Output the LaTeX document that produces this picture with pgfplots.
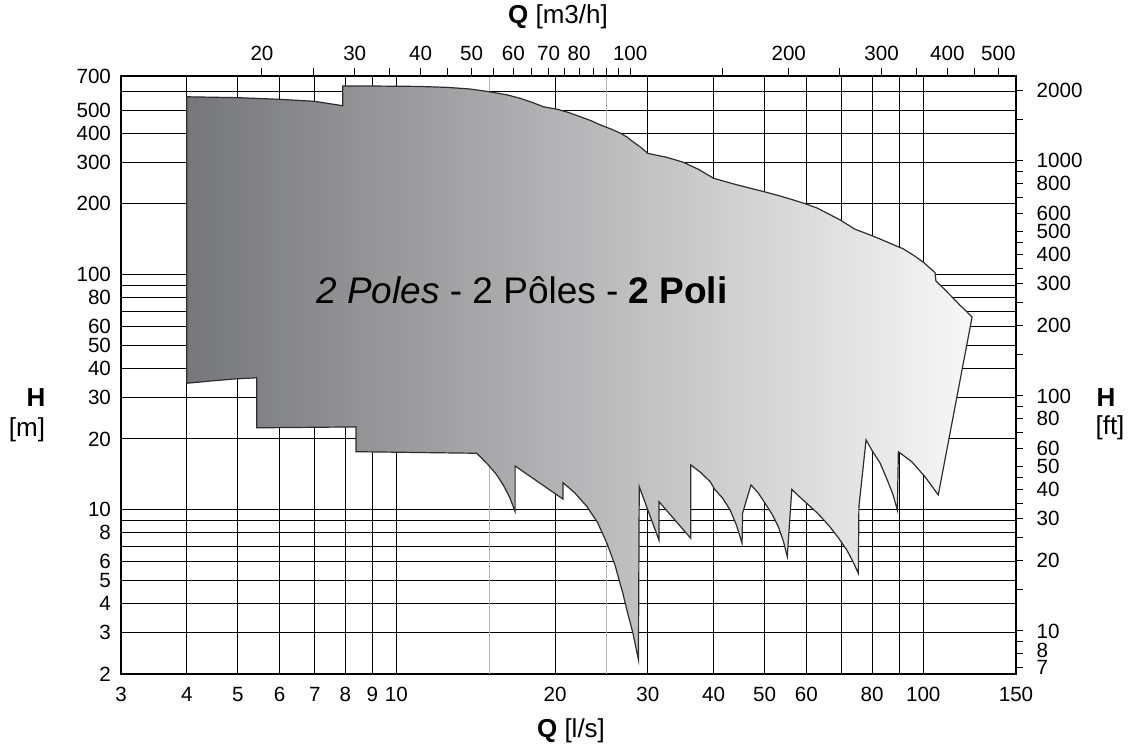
\documentclass[border=0pt]{standalone}
\usepackage{fontspec}
\setmainfont{Liberation Sans}
\usepackage{pgfplots}
\pgfplotsset{compat=1.18}

\definecolor{shadeL}{RGB}{118,119,122}
\definecolor{shadeR}{RGB}{247,247,247}
\definecolor{edge}{RGB}{45,45,45}

\begin{document}
\begin{tikzpicture}
\path[use as bounding box] (-60.5pt,-37.5pt) rectangle (505pt,337pt);
\pgfplotsset{every axis/.append style={width=447.5pt, height=299pt, scale only axis,
  font=\fontsize{10.3}{12}\selectfont}}

% main axis: Q [l/s] vs H [m]
\begin{axis}[
  xmode=log, ymode=log,
  xmin=3, xmax=150, ymin=2, ymax=700,
  xtick={3,4,5,6,7,8,9,10,20,30,40,50,60,70,80,90,100,150},
  xticklabels={3,4,5,6,7,8,9,10,20,30,40,50,60,,80,,100,150},
  ytick={2,3,4,5,6,7,8,9,10,20,30,40,50,60,70,80,90,100,200,300,400,500,600,700},
  yticklabels={2,3,4,5,6,,8,,10,20,30,40,50,60,,80,,100,200,300,400,500,,700},
  extra x ticks={15,25},
  extra x tick labels={{},{}},
  extra x tick style={major grid style={black!30, line width=0.5pt}},
  major tick length=0pt,
  grid=major,
  major grid style={black, line width=0.5pt},
  axis line style={black, line width=0.6pt},
  xticklabel style={yshift=-3pt},
  yticklabel style={xshift=-1.5pt},
]
\addplot[draw=edge, line width=0.6pt, left color=shadeL, right color=shadeR, line join=miter]
coordinates {
  % upper limit
  (4,571) (5,566) (6,557) (7,546) (7.91,523) (7.91,634) (9.3,634) (11,632) (12.5,626)
  (13.8,616) (15,600) (16.2,582) (17.2,562) (18.2,538) (19,518) (20.2,505) (21.2,490)
  (22.3,470) (23.4,452) (24.4,433) (25.5,417) (26.6,400) (27.4,385) (28.1,368)
  (29.1,348) (30,328) (32.5,316) (35,301) (37.5,280) (40,257) (44,242) (47,233)
  (50,225) (53.5,216) (56.6,208) (59.8,200) (62.9,192) (66.2,181) (69.5,171)
  (74.2,156) (79,148) (83.9,140) (87.7,134) (91.5,129) (95.8,121) (100,113) (105.3,102)
  (105.7,94) (109.8,86.5) (113.9,79.6) (117.5,74) (121.1,69.4) (123.8,66)
  % right edge and lower limit
  (106.8,11.55) (100.8,13.8) (95.1,16.0) (89.7,17.65) (89.3,9.97)
  (87.5,11.7) (85.2,13.6) (82.8,15.8) (80.2,17.65) (77.9,19.8) (75.5,10.3) (75.3,5.36)
  (73.6,6.0) (71.6,6.74) (69.0,7.6) (66.5,8.46) (63.2,9.6) (60.1,10.64) (58.1,11.4)
  (56.3,12.2) (55.2,6.31)
  (54.3,7.3) (53.1,8.46) (51.6,9.6) (50.1,10.64) (48.6,11.8) (47.1,12.74) (45.4,9.66) (45.3,7.19)
  (44.2,8.6) (43.0,9.97) (41.6,11.2) (40.2,12.2) (39.4,13.16) (37.8,14.4) (36.2,15.5) (36.2,7.56)
  (31.5,10.82) (31.5,7.43) (28.9,12.53) (28.8,2.3) (28.1,3.0) (27.5,3.6)
  (26.9,4.41) (26.0,5.8) (25.1,7.19) (24.1,8.8) (23.0,10.3) (21.8,11.8) (20.7,13.03) (20.7,11.1)
  (16.8,15.34) (16.8,9.81) (16.4,11.3) (15.95,12.74) (15.45,14.2) (14.94,15.5) (14.5,16.6) (14.2,17.38)
  (8.38,17.65) (8.38,22.5) (5.43,22.3) (5.43,36.4) (4.94,36.0) (4.45,35.3) (4,34.5)
} -- cycle;
\node[font=\fontsize{18.5}{20}\selectfont] at (axis cs:17.3,86)
  {\textit{2 Poles} - 2 Pôles - \textbf{2 Poli}};
\end{axis}

% top axis: Q [m3/h]
\begin{axis}[
  xmode=log, xmin=10.8, xmax=540, ymin=0, ymax=1,
  axis x line*=top, hide y axis,
  xtick={20,25,30,35,40,45,50,55,60,65,70,75,80,85,90,95,100,150,200,250,300,350,400,450,500},
  xticklabels={20,,30,,40,,50,,60,,70,,80,,,,100,,200,,300,,400,,500},
  tick align=outside, major tick length=4pt,
  tick style={black, line width=0.5pt},
  axis line style={black, line width=0.6pt},
]
\end{axis}

% right axis: H [ft]
\begin{axis}[
  ymode=log, ymin=6.5617, ymax=2296.6, xmin=0, xmax=1,
  axis y line*=right, hide x axis,
  ytick={7,8,9,10,15,20,25,30,35,40,45,50,60,70,80,90,100,150,200,250,300,350,400,450,500,600,700,800,900,1000,1500,2000},
  yticklabels={\raisebox{-3pt}{7},\raisebox{3pt}{8},,10,,20,,30,,40,,50,60,,80,,100,,200,,300,,400,,500,600,,800,,1000,,2000},
  tick align=outside, major tick length=3.3pt,
  tick style={black, line width=0.5pt},
  axis line style={black, line width=0.6pt},
  yticklabel style={xshift=3.5pt, inner ysep=0.5pt},
]
\end{axis}

\node[font=\fontsize{13}{15}\selectfont] at (225pt,-28.5pt) {\textbf{Q} [l/s]};
\node[font=\fontsize{13}{15}\selectfont] at (218.5pt,328.5pt) {\textbf{Q} [m3/h]};
\node[font=\fontsize{13}{15}\selectfont] at (-42.5pt,138pt) {\textbf{H}};
\node[font=\fontsize{13}{15}\selectfont] at (-47pt,122pt) {[m]};
\node[font=\fontsize{13}{15}\selectfont] at (492.5pt,138pt) {\textbf{H}};
\node[font=\fontsize{13}{15}\selectfont] at (494.5pt,123pt) {[ft]};
\end{tikzpicture}
\end{document}
